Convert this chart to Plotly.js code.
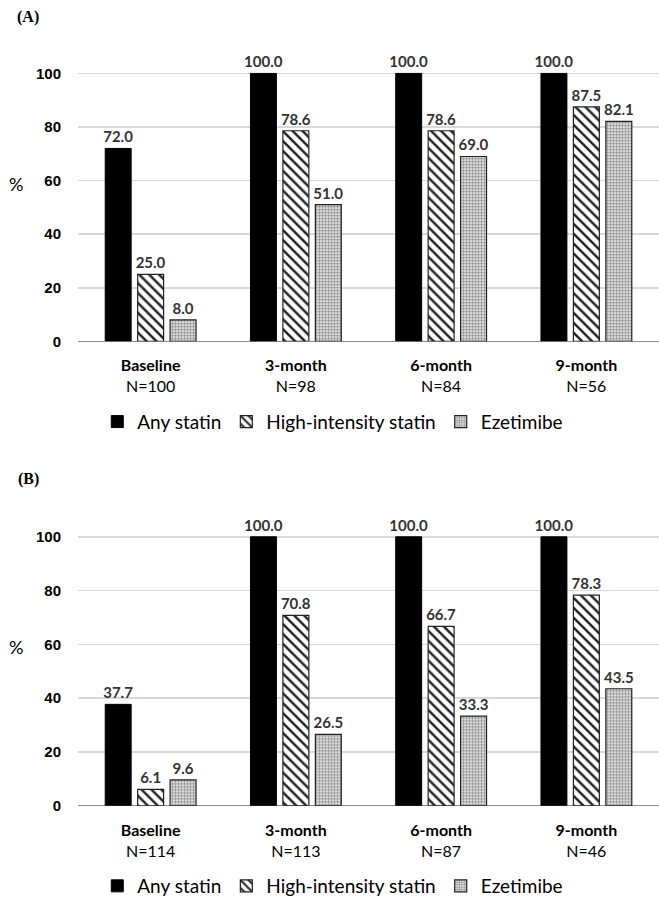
<!DOCTYPE html>
<html>
<head>
<meta charset="utf-8">
<script src="https://cdn.plot.ly/plotly-3.0.1.min.js"></script>
<style>html,body{margin:0;padding:0;background:#fff;}#chart{width:659px;height:905px;}</style>
</head>
<body>
<div id="chart"></div>
<script>
// ---- data ----
const seriesNames = ["Any statin", "High-intensity statin", "Ezetimibe"];
const catsA = ["<b>Baseline</b><br>N=100", "<b>3-month</b><br>N=98", "<b>6-month</b><br>N=84", "<b>9-month</b><br>N=56"];
const catsB = ["<b>Baseline</b><br>N=114", "<b>3-month</b><br>N=113", "<b>6-month</b><br>N=87", "<b>9-month</b><br>N=46"];
const anyStatinA = [72.0, 100.0, 100.0, 100.0];
const highIntA   = [25.0, 78.6, 78.6, 87.5];
const ezetimibeA = [8.0, 51.0, 69.0, 82.1];
const anyStatinB = [37.7, 100.0, 100.0, 100.0];
const highIntB   = [6.1, 70.8, 66.7, 78.3];
const ezetimibeB = [9.6, 26.5, 33.3, 43.5];
const yTicks = [0, 20, 40, 60, 80, 100];

// ---- styles ----
const FONT = "Lato, 'Open Sans', sans-serif";
const markers = [
  {color: "#000000", line: {color: "#000", width: 1}},
  {color: "#ffffff", line: {color: "#222", width: 1.2},
   pattern: {shape: "\\", fgcolor: "#222", bgcolor: "#fff", size: 7, solidity: 0.35}},
  {color: "#ffffff", line: {color: "#222", width: 1.2},
   pattern: {shape: ".", fgcolor: "#8c8c8c", bgcolor: "#fff", size: 3, solidity: 0.6}}
];

function mk(x, y, i, xa, ya, leg) {
  return {
    type: "bar", x: x, y: y, name: seriesNames[i], xaxis: xa, yaxis: ya,
    legend: leg, marker: markers[i],
    text: y.map(v => v.toFixed(1)), textposition: "outside", cliponaxis: false,
    constraintext: "none",
    texttemplate: "<b>%{text}</b>",
    textfont: {family: FONT, size: 15, color: "#333333"},
    hoverinfo: "skip"
  };
}

const data = [
  mk(catsA, anyStatinA, 0, "x", "y", "legend"),
  mk(catsA, highIntA, 1, "x", "y", "legend"),
  mk(catsA, ezetimibeA, 2, "x", "y", "legend"),
  mk(catsB, anyStatinB, 0, "x2", "y2", "legend2"),
  mk(catsB, highIntB, 1, "x2", "y2", "legend2"),
  mk(catsB, ezetimibeB, 2, "x2", "y2", "legend2")
];

const H = 905, W = 659;
function xax(anchor) {
  return {domain: [78 / W, 1], anchor: anchor, showgrid: false, zeroline: false,
    showline: false, ticks: "", ticklabelstandoff: 13,
    tickfont: {family: FONT, size: 16, color: "#000"}, fixedrange: true};
}
function yax(anchor, d0, d1) {
  return {domain: [d0, d1], anchor: anchor, range: [0, 118], tickvals: yTicks,
    ticktext: yTicks.map(v => "<b>" + v + "</b>"),
    showgrid: true, gridcolor: "#d9d9d9", gridwidth: 1.5, zeroline: true, zerolinecolor: "#8c8c8c", zerolinewidth: 1.5,
    showline: false, ticks: "", ticklabelstandoff: 16,
    tickfont: {family: "'Liberation Sans', Arial, sans-serif", size: 15, color: "#000"}, fixedrange: true};
}

const legFont = {family: FONT, size: 19, color: "#000"};
const layout = {
  width: W, height: H, margin: {l: 0, r: 0, t: 0, b: 0},
  paper_bgcolor: "#fff", plot_bgcolor: "#fff",
  barmode: "group", bargap: 0.33, bargroupgap: 0.2,
  font: {family: FONT, color: "#000"},
  xaxis: xax("y"), yaxis: yax("x", 1 - 344 / H, 1 - 25.4 / H),
  xaxis2: xax("y2"), yaxis2: yax("x2", 1 - 812 / H, 1 - 492.2 / H),
  legend: {orientation: "h", x: 0.505, xanchor: "center", y: 1 - 425 / H, yanchor: "middle",
    font: legFont, itemwidth: 30, traceorder: "normal"},
  legend2: {orientation: "h", x: 0.505, xanchor: "center", y: 1 - 893 / H, yanchor: "middle",
    font: legFont, itemwidth: 30, traceorder: "normal"},
  annotations: [
    {text: "<b>(A)</b>", xref: "paper", yref: "paper", x: 28 / W, y: 1 - 17 / H, xanchor: "center", yanchor: "middle",
     showarrow: false, font: {family: "'Liberation Serif', 'Times New Roman', serif", size: 16, color: "#000"}},
    {text: "<b>(B)</b>", xref: "paper", yref: "paper", x: 28 / W, y: 1 - 483 / H, xanchor: "center", yanchor: "middle",
     showarrow: false, font: {family: "'Liberation Serif', 'Times New Roman', serif", size: 16, color: "#000"}},
    {text: "%", xref: "paper", yref: "paper", x: 16 / W, y: 1 - 185 / H, xanchor: "center", yanchor: "middle",
     showarrow: false, font: {family: FONT, size: 18, color: "#000"}},
    {text: "%", xref: "paper", yref: "paper", x: 16 / W, y: 1 - 652 / H, xanchor: "center", yanchor: "middle",
     showarrow: false, font: {family: FONT, size: 18, color: "#000"}}
  ]
};

Plotly.newPlot("chart", data, layout, {displayModeBar: false, staticPlot: true});
</script>
</body>
</html>
